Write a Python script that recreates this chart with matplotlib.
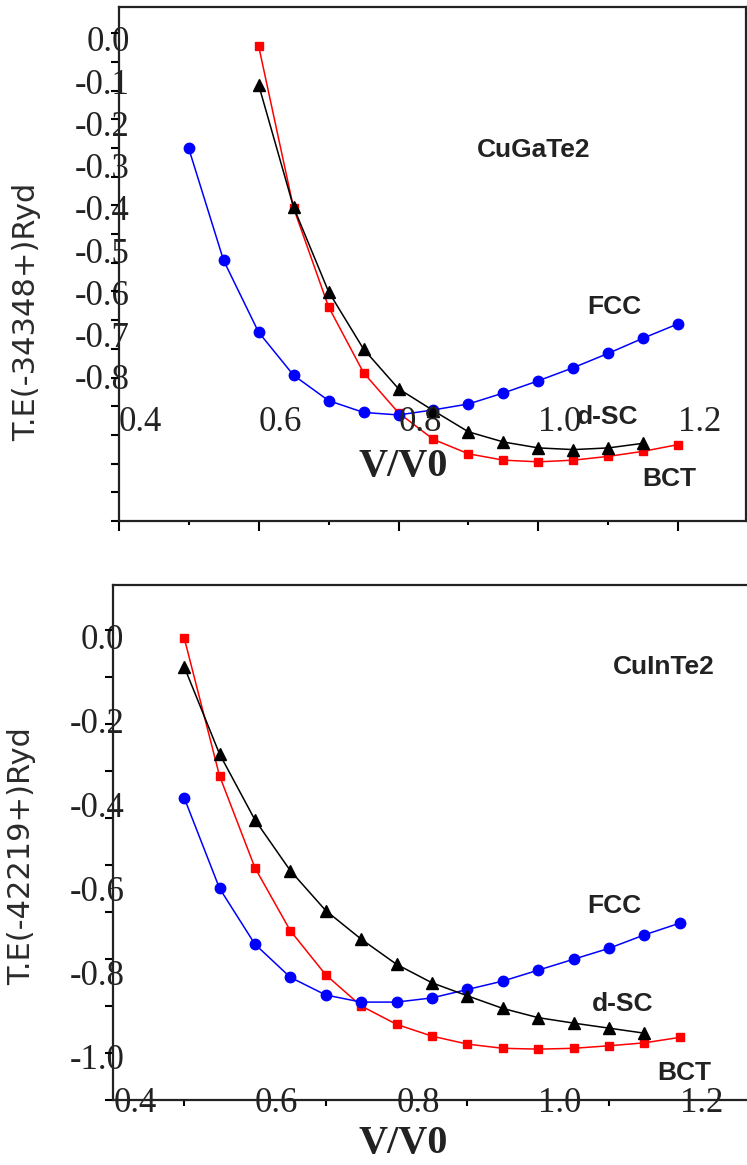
import numpy as np
import matplotlib
matplotlib.use("Agg")
import matplotlib.pyplot as plt

# V/V0 grid (same step in both panels)
v_fcc = np.arange(0.5, 1.2001, 0.05)
v_top_dsc = np.arange(0.6, 1.1501, 0.05)
v_top_bct = np.arange(0.6, 1.2001, 0.05)
v_bot_dsc = np.arange(0.5, 1.1501, 0.05)
v_bot_bct = np.arange(0.5, 1.2001, 0.05)

# CuGaTe2 total energies
top_fcc = [-0.258, -0.524, -0.694, -0.796, -0.856, -0.884, -0.890, -0.878,
           -0.864, -0.838, -0.809, -0.778, -0.744, -0.708, -0.674]
top_dsc = [-0.108, -0.398, -0.598, -0.734, -0.828, -0.880, -0.930, -0.954,
           -0.968, -0.972, -0.968, -0.957]
top_bct = [-0.016, -0.400, -0.634, -0.790, -0.885, -0.948, -0.982, -0.997,
           -1.001, -0.997, -0.988, -0.976, -0.960]

# CuInTe2 total energies
bot_fcc = [-0.383, -0.599, -0.732, -0.811, -0.853, -0.870, -0.870, -0.860,
           -0.840, -0.820, -0.794, -0.768, -0.742, -0.710, -0.682]
bot_dsc = [-0.071, -0.279, -0.436, -0.557, -0.652, -0.720, -0.780, -0.824,
           -0.855, -0.885, -0.907, -0.920, -0.932, -0.944]
bot_bct = [-0.002, -0.331, -0.550, -0.700, -0.805, -0.879, -0.923, -0.951,
           -0.970, -0.980, -0.982, -0.980, -0.974, -0.967, -0.954]

x_labels = ["0.4", "0.6", "0.8", "1.0", "1.2"]
x_label_pos = [0.4, 0.6, 0.8, 1.0, 1.2]
top_yticks = [0.0, -0.1, -0.2, -0.3, -0.4, -0.5, -0.6, -0.7, -0.8]
top_ylabels = ["0.0", "-0.1", "-0.2", "-0.3", "-0.4", "-0.5", "-0.6", "-0.7", "-0.8"]
bot_yticks = [0.0, -0.2, -0.4, -0.6, -0.8, -1.0]
bot_ylabels = ["0.0", "-0.2", "-0.4", "-0.6", "-0.8", "-1.0"]

serif = "Liberation Serif"
sans = "Liberation Sans"
txt_col = "#222222"

fig = plt.figure(figsize=(7.47, 11.65), dpi=100)
ax1 = fig.add_axes([118.6 / 747, 1 - 521 / 1165, 627 / 747, 514.2 / 1165])
ax2 = fig.add_axes([113.3 / 747, 1 - 1100 / 1165, (747 - 113.3) / 747, 515 / 1165])


def draw_curves(ax, vf, fcc, vd, dsc, vb, bct):
    ax.plot(vb, bct, color="#ff0000", marker="s", markersize=5.5, lw=1.1)
    ax.plot(vf, fcc, color="#0000ff", marker="o", markersize=7.5, lw=1.1)
    ax.plot(vd, dsc, color="black", marker="^", markersize=8.5, lw=1.1)


def style_axes(ax, ylim, yt, ylab, yminor):
    ax.set_xlim(0.4, 1.296)
    ax.set_ylim(*ylim)
    ax.set_yticks(yt)
    ax.set_yticklabels(ylab, fontfamily=serif, fontsize=25, color=txt_col)
    ax.set_yticks(yminor, minor=True)
    ax.tick_params(axis="y", which="major", length=0, pad=-8)
    ax.tick_params(axis="y", which="minor", length=6, width=1.5, direction="out")
    for s in ax.spines.values():
        s.set_linewidth(1.6)
        s.set_color("#222222")


# ---- top panel: CuGaTe2
draw_curves(ax1, v_fcc, top_fcc, v_top_dsc, top_dsc, v_top_bct, top_bct)
style_axes(ax1, (-1.141, 0.076), top_yticks, top_ylabels,
           np.arange(-1.141, 0.07, 0.0679))
ax1.set_xticks([0.4, 0.6, 0.8, 1.0, 1.2])
ax1.set_xticks([0.5, 0.7, 0.9, 1.1], minor=True)
ax1.tick_params(axis="x", which="major", length=7, width=1.5, labelbottom=False)
ax1.tick_params(axis="x", which="minor", length=3, width=1.5)
for xp, lab in zip(x_label_pos, x_labels):
    ax1.text(xp, -0.899, lab, ha="left", va="center_baseline",
             fontfamily=serif, fontsize=25, color=txt_col)
ax1.text(0.806, -1.011, "V/V0", ha="center", va="center", fontfamily=serif,
         fontsize=29, fontweight="bold", color=txt_col)
ax1.text(0.9116, -0.263, "CuGaTe2", ha="left", va="center", fontfamily=sans,
         fontsize=19, fontweight="bold", color=txt_col)
ax1.text(1.069, -0.634, "FCC", ha="left", va="center", fontfamily=sans,
         fontsize=19, fontweight="bold", color=txt_col)
ax1.text(1.055, -0.895, "d-SC", ha="left", va="center", fontfamily=sans,
         fontsize=19, fontweight="bold", color=txt_col)
ax1.text(1.149, -1.041, "BCT", ha="left", va="center", fontfamily=sans,
         fontsize=19, fontweight="bold", color=txt_col)

# ---- bottom panel: CuInTe2
draw_curves(ax2, v_fcc, bot_fcc, v_bot_dsc, bot_dsc, v_bot_bct, bot_bct)
style_axes(ax2, (-1.1031, 0.1231), bot_yticks, bot_ylabels,
           np.arange(-1.1031, 0.12, 0.1119))
ax2.set_xlim(0.4, 1.295)
ax2.spines["right"].set_visible(False)
ax2.set_xticks([0.4, 0.6, 0.8, 1.0, 1.2])
ax2.set_xticks([0.5, 0.7, 0.9, 1.1], minor=True)
ax2.tick_params(axis="x", which="major", length=0, labelbottom=False)
ax2.tick_params(axis="x", which="minor", length=4, width=1.5)
for xp, lab in zip(x_label_pos, x_labels):
    ax2.text(xp, -1.1031, lab, ha="left", va="center_baseline", clip_on=False,
             fontfamily=serif, fontsize=25, color=txt_col)
ax2.text(0.809, -1.206, "V/V0", ha="center", va="center", fontfamily=serif,
         fontsize=29, fontweight="bold", color=txt_col, clip_on=False)
ax2.text(1.106, -0.072, "CuInTe2", ha="left", va="center", fontfamily=sans,
         fontsize=19, fontweight="bold", color=txt_col)
ax2.text(1.069, -0.641, "FCC", ha="left", va="center", fontfamily=sans,
         fontsize=19, fontweight="bold", color=txt_col)
ax2.text(1.076, -0.875, "d-SC", ha="left", va="center", fontfamily=sans,
         fontsize=19, fontweight="bold", color=txt_col)
ax2.text(1.168, -1.039, "BCT", ha="left", va="center", fontfamily=sans,
         fontsize=19, fontweight="bold", color=txt_col)

# y axis titles
fig.text(27 / 747, 1 - 312 / 1165, "T.E(-34348+)Ryd", rotation=90,
         ha="center", va="center", fontfamily="DejaVu Sans", fontsize=22,
         color="#2b2b2b")
fig.text(22 / 747, 1 - 856 / 1165, "T.E(-42219+)Ryd", rotation=90,
         ha="center", va="center", fontfamily="DejaVu Sans", fontsize=22,
         color="#2b2b2b")

fig.savefig("out.png", dpi=100)
